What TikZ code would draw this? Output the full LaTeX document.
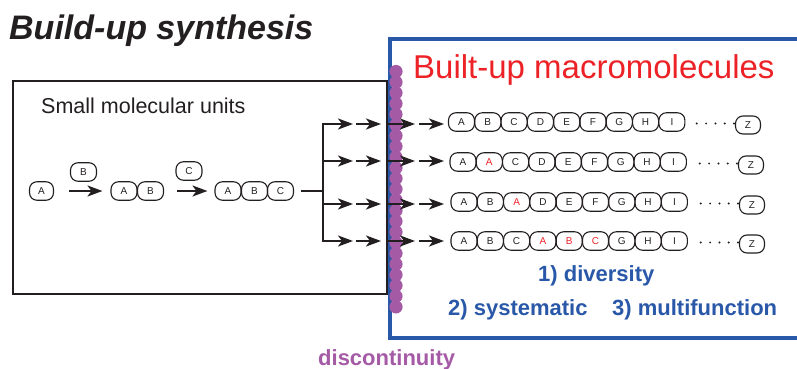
\documentclass[tikz,border=0pt]{standalone}
\usepackage{fontspec}
\setmainfont{Liberation Sans}
\usetikzlibrary{arrows.meta}

\definecolor{wallpurple}{HTML}{A55AA6}
\definecolor{frameblue}{HTML}{2A58A8}
\definecolor{titlered}{HTML}{EC2227}
\definecolor{ink}{HTML}{231F20}

\tikzset{
  unit/.style={draw=ink, line width=1.1pt, rounded corners=7.5pt,
    minimum width=26pt, minimum height=18.5pt, inner sep=0pt,
    font=\fontsize{10}{10}\selectfont, text=ink},
  arr/.style={draw=ink, line width=2pt, -{Stealth[length=15pt,width=11pt,inset=4pt]}},
  tree/.style={draw=ink, line width=2pt},
  headline/.style={font=\fontsize{34}{40}\selectfont\bfseries\itshape, text=ink, inner sep=0pt},
  boxlabel/.style={font=\fontsize{21.5}{24}\selectfont, text=ink, inner sep=0pt},
  redlabel/.style={font=\fontsize{33}{38}\selectfont, text=titlered, inner sep=0pt},
  bluelabel/.style={font=\fontsize{22}{26}\selectfont\bfseries, text=frameblue, inner sep=0pt},
  purplelabel/.style={font=\fontsize{22}{26}\selectfont\bfseries, text=wallpurple, inner sep=0pt},
}

\begin{document}
\begin{tikzpicture}[x=1pt,y=-1pt]
\useasboundingbox (0,0) rectangle (797,369);
\clip (0,0) rectangle (797,369);

% title
\node[headline, anchor=base west] (title) at (9,40) {Build-up synthesis};

% frame of the small units
\node[draw=ink, line width=1.5pt, minimum width=374pt, minimum height=213pt,
      inner sep=0pt, anchor=north west] (smallframe) at (12,80) {};
\node[boxlabel, anchor=base west] (smalltitle) at (41,113) {Small molecular units};

% frame of the macromolecules (runs past the right edge)
\node[draw=frameblue, line width=4pt, minimum width=440pt, minimum height=299pt,
      inner sep=0pt, anchor=north west] (bigframe) at (388,37) {};
\node[redlabel, anchor=base west] (bigtitle) at (413,78) {Built-up macromolecules};

% discontinuity wall
\foreach \i in {0,...,22}
  \fill[wallpurple] (396,71.5+\i*10.7) circle (6.6pt);

% stepwise growth A -> AB -> ABC
\node[unit, minimum width=24pt] (a0) at (41.5,191) {A};
\node[unit] (b0) at (83.5,172) {B};
\node[unit] (ab1) at (124,191) {A};
\node[unit] (ab2) at (150.5,191) {B};
\node[unit] (c0) at (189,171) {C};
\node[unit] (abc1) at (228,191) {A};
\node[unit] (abc2) at (254.5,191) {B};
\node[unit] (abc3) at (280.5,191) {C};

\draw[arr] ([xshift=15pt]a0.east) -- ([xshift=-8pt]ab1.west);
\draw[arr] ([xshift=13pt]ab2.east) -- ([xshift=-7pt]abc1.west);

% branching into four chains
\coordinate (fork) at (323,191);
\coordinate (forktop) at (323,123);
\coordinate (forkbot) at (323,242);
\draw[tree] ([xshift=6.5pt]abc3.east) -- (fork);
\draw[tree] (forktop) -- (forkbot);

% the four chains
\foreach \r/\y/\ay/\xo/\zx/\seq in {
  1/122/124/461.5/748/{A/ink,B/ink,C/ink,D/ink,E/ink,F/ink,G/ink,H/ink,I/ink},
  2/162/161/463/751/{A/ink,A/titlered,C/ink,D/ink,E/ink,F/ink,G/ink,H/ink,I/ink},
  3/202/204/464/752/{A/ink,B/ink,A/titlered,D/ink,E/ink,F/ink,G/ink,H/ink,I/ink},
  4/241/241/464/752/{A/ink,B/ink,C/ink,A/titlered,B/titlered,C/titlered,G/ink,H/ink,I/ink}}
{
  \foreach \l/\c [count=\k] in \seq
    \node[unit, text=\c] (row\r-\k) at (\xo+26.3*\k-26.3,\y) {\l};
  \node[unit, minimum width=25pt, minimum height=18pt] (row\r-z) at (\zx,\y+3) {Z};
  \foreach \d in {0,...,4}
    \fill[ink] (\zx-14-\d*9.3,\y+1.5) circle (1.1pt);
  \coordinate (r\r-p0) at (323,\ay);
  \coordinate (r\r-p1) at (353,\ay);
  \coordinate (r\r-p2) at (356,\ay);
  \coordinate (r\r-p3) at (381,\ay);
  \coordinate (r\r-p4) at (387,\ay);
  \coordinate (r\r-p5) at (415,\ay);
  \coordinate (r\r-p6) at (419,\ay);
  \coordinate (r\r-p7) at (444,\ay);
  \draw[arr] (r\r-p0) -- (r\r-p1);
  \draw[arr] (r\r-p2) -- (r\r-p3);
  \draw[arr] (r\r-p4) -- (r\r-p5);
  \draw[arr] (r\r-p6) -- (r\r-p7);
}

% properties
\node[bluelabel, anchor=base west] (prop1) at (538,281) {1) diversity};
\node[bluelabel, anchor=base west] (prop2) at (448,315) {2) systematic};
\node[bluelabel, anchor=base west] (prop3) at (612,315) {3) multifunction};

\node[purplelabel, anchor=base west] (walllabel) at (318,365) {discontinuity};
\end{tikzpicture}
\end{document}
